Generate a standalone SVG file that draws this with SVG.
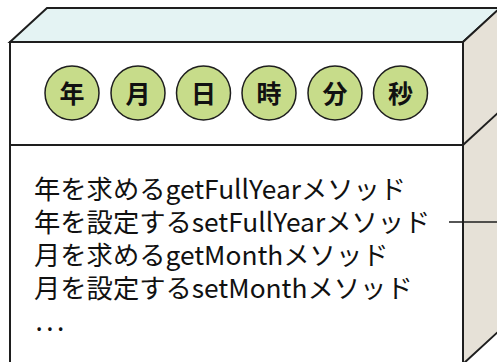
<svg xmlns="http://www.w3.org/2000/svg" width="497" height="362" viewBox="0 0 497 362">
<style>
.edge{stroke:#1e1e1e;stroke-width:2;stroke-linejoin:miter}
.top{fill:#e4f3f3}
.side{fill:#e6e1d7}
.front{fill:#ffffff}
.circ{fill:#c7dc8a;stroke:#1e1e1e;stroke-width:1.5}
.lbl{font-family:"Noto Sans CJK JP","Noto Sans",sans-serif;font-size:25px;font-weight:bold;fill:#111;text-anchor:middle}
.body{font-family:"Noto Sans CJK JP","Noto Sans",sans-serif;font-size:26.3px;font-weight:normal;fill:#111}
.dots{letter-spacing:3.5px}
.conn{stroke:#1e1e1e;stroke-width:1.5;fill:none}
</style>
<g id="box">
<polygon class="top edge" points="10,42 47,8 500,8 463,42"/>
<polygon class="side edge" points="463,42 500,8 500,330 463,364"/>
<rect class="front edge" x="10" y="42" width="453" height="322"/>
<line class="edge" x1="10" y1="145" x2="463" y2="145"/>
<line class="edge" x1="463" y1="145" x2="500" y2="111"/>
</g>
<g id="fields">
<g id="n-year"><circle class="circ" cx="72" cy="93" r="27"/><text class="lbl" x="72" y="102.5">年</text></g>
<g id="n-month"><circle class="circ" cx="138" cy="93" r="27"/><text class="lbl" x="138" y="102.5">月</text></g>
<g id="n-day"><circle class="circ" cx="203.5" cy="93" r="27"/><text class="lbl" x="203.5" y="102.5">日</text></g>
<g id="n-hour"><circle class="circ" cx="269" cy="93" r="27"/><text class="lbl" x="269" y="102.5">時</text></g>
<g id="n-min"><circle class="circ" cx="335" cy="93" r="27"/><text class="lbl" x="335" y="102.5">分</text></g>
<g id="n-sec"><circle class="circ" cx="400.5" cy="93" r="27"/><text class="lbl" x="400.5" y="102.5">秒</text></g>
</g>
<g id="methods">
<text class="body" x="34" y="199"><tspan x="34" y="199">年を求めるgetFullYearメソッド</tspan><tspan x="34" y="232">年を設定するsetFullYearメソッド</tspan><tspan x="34" y="265">月を求めるgetMonthメソッド</tspan><tspan x="34" y="298">月を設定するsetMonthメソッド</tspan><tspan class="dots" x="35.5" y="331">...</tspan></text>
</g>
<g id="connectors">
<line class="conn" x1="449" y1="222" x2="497" y2="222"/>
</g>
</svg>
